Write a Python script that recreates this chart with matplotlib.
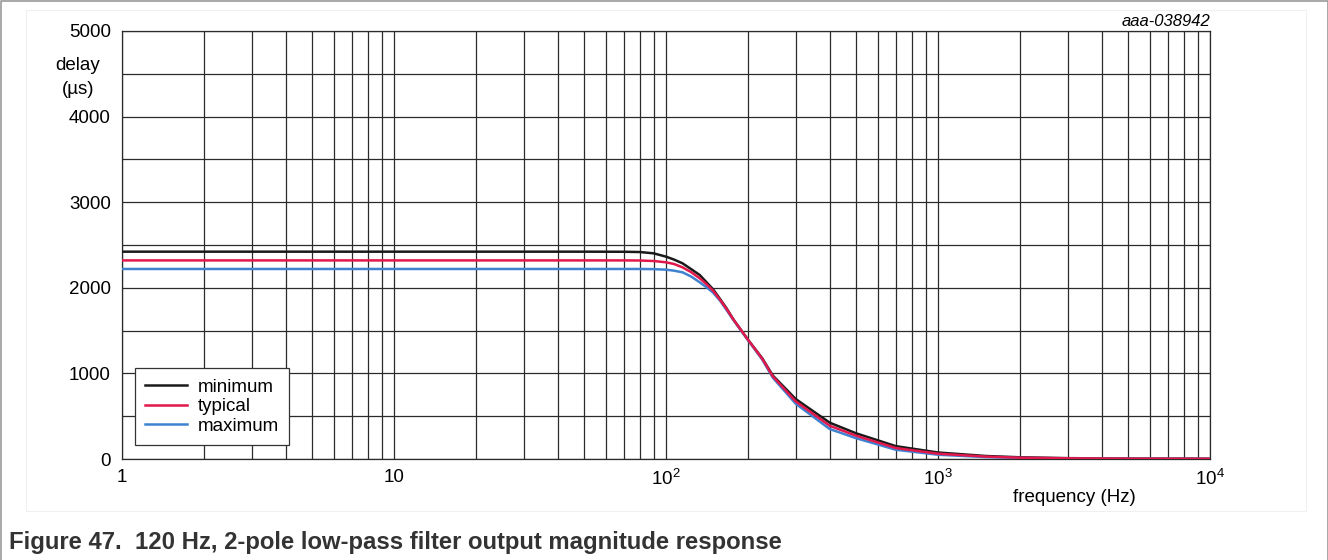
import numpy as np
import matplotlib.pyplot as plt
from matplotlib.lines import Line2D
from matplotlib.patches import Rectangle

plt.rcParams["font.family"] = ["Liberation Sans", "DejaVu Sans"]

# values
freq = [1, 10, 50, 70, 80, 90, 100, 107, 115, 124, 133, 141, 149, 158, 167, 177, 200, 226, 247,
        300, 400, 500, 700, 1000, 1500, 2000, 3000, 5000, 10000]
delay_min = [2422, 2422, 2422, 2421, 2418, 2403, 2364, 2330, 2286, 2216, 2150, 2064, 1982, 1870, 1760,
             1630, 1395, 1176, 975, 700, 424, 300, 150, 76, 35, 20, 10, 5, 3]
delay_typ = [2320, 2320, 2320, 2320, 2319, 2313, 2298, 2278, 2239, 2181, 2111, 2041, 1966, 1860, 1752,
             1628, 1395, 1170, 965, 672, 388, 272, 128, 62, 28, 15, 8, 4, 3]
delay_max = [2220, 2220, 2220, 2220, 2220, 2218, 2212, 2200, 2181, 2130, 2064, 2006, 1943, 1850, 1740,
             1622, 1390, 1160, 950, 645, 350, 243, 108, 50, 22, 12, 6, 3, 2]

xticks = [1, 10, 100, 1000, 10000]
xtick_labels = ["1", "10", r"$\mathregular{10^2}$", r"$\mathregular{10^3}$", r"$\mathregular{10^4}$"]
yticks = [0, 1000, 2000, 3000, 4000, 5000]

W, H = 1328, 560
fig = plt.figure(figsize=(W / 100, H / 100), dpi=100)

# page frame and faint panel
fig.add_artist(Rectangle((26 / W, 1 - 511 / H), 1280 / W, 501 / H, transform=fig.transFigure,
                         facecolor="white", edgecolor="#f0f0f0", lw=0.8, zorder=-5))
fig.add_artist(Line2D([0.5 / W, 0.5 / W, 1 - 0.5 / W, 1 - 0.5 / W], [0, 1 - 0.5 / H, 1 - 0.5 / H, 0],
                      transform=fig.transFigure, color="#9a9a9a", lw=1.2))

ax = fig.add_axes([122 / W, 1 - 459 / H, 1088 / W, 428 / H])
ax.set_xscale("log")

ax.plot(freq, delay_min, color="#1a1a1a", lw=1.8, label="minimum", zorder=3)
ax.plot(freq, delay_max, color="#3f82d0", lw=1.8, label="maximum", zorder=3)
ax.plot(freq, delay_typ, color="#e2174c", lw=1.8, label="typical", zorder=4)

ax.set_xlim(1, 10000)
ax.set_ylim(0, 5000)

ax.set_xticks(xticks)
ax.set_xticklabels(xtick_labels)
ax.set_xticks([m * 10 ** d for d in range(4) for m in range(2, 10)], minor=True)
ax.set_xticklabels([], minor=True)
ax.set_yticks(yticks)
ax.set_yticks(np.arange(500, 5000, 1000), minor=True)

ax.tick_params(which="both", length=0)
ax.tick_params(axis="x", pad=7, labelsize=13.5)
ax.tick_params(axis="y", pad=8, labelsize=13.5)

ax.grid(True, which="both", color="#2b2b2b", lw=0.9)
ax.set_axisbelow(True)
for s in ax.spines.values():
    s.set_color("#2b2b2b")
    s.set_linewidth(0.9)

handles, labels = ax.get_legend_handles_labels()
order = [0, 2, 1]
leg = ax.legend([handles[i] for i in order], [labels[i] for i in order],
                loc="lower left", bbox_to_anchor=(0.012, 0.033), borderaxespad=0,
                fancybox=False, framealpha=1, edgecolor="#333333", fontsize=13.5,
                handlelength=2.2, labelspacing=0.12, borderpad=0.55, handletextpad=0.6)
leg.get_frame().set_linewidth(0.9)

fig.text(78 / W, 1 - 66 / H, "delay", ha="center", va="center", fontsize=13.5)
fig.text(78 / W, 1 - 89 / H, "(µs)", ha="center", va="center", fontsize=13.5)
fig.text(1074 / W, 1 - 498 / H, "frequency (Hz)", ha="center", va="center", fontsize=13.5)
fig.text(1210 / W, 1 - 21 / H, "aaa-038942", ha="right", va="center", fontsize=12, style="italic")

fig.text(9 / W, 1 - 542 / H, "Figure 47.  120 Hz, 2-pole low-pass filter output magnitude response",
         ha="left", va="center", fontsize=17.2, fontweight="bold", color="#333333")

fig.savefig("out.png", dpi=100)
